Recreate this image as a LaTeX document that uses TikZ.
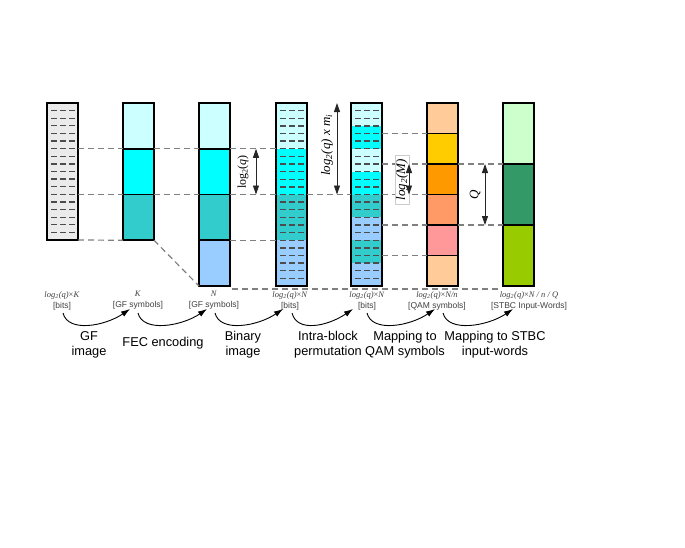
\documentclass[tikz,border=0pt]{standalone}
\usepackage{fontspec}
\setmainfont{Liberation Serif}
\setsansfont{Liberation Sans}
\usetikzlibrary{arrows.meta}
\definecolor{lcyan}{HTML}{CCFFFF}
\definecolor{cyn}{HTML}{00FFFF}
\definecolor{teal2}{HTML}{33CCCC}
\definecolor{lblue}{HTML}{99CCFF}
\definecolor{peach}{HTML}{FFCC99}
\definecolor{gold2}{HTML}{FFCC00}
\definecolor{orng}{HTML}{FF9900}
\definecolor{salmon2}{HTML}{FF9966}
\definecolor{pink2}{HTML}{FF9999}
\definecolor{lgreen}{HTML}{CCFFCC}
\definecolor{sgreen}{HTML}{339966}
\definecolor{ygreen}{HTML}{99CC00}
\definecolor{bgray}{HTML}{EBEBEB}
\newcommand{\lgq}{\textit{log}\textsubscript{\textit{2}}\textit{(q)}}
\begin{document}
\begin{tikzpicture}[x=1pt,y=-1pt,
  blk/.style={draw, line width=1.8pt, minimum width=31pt, inner sep=0pt, outer sep=0pt, anchor=north west},
  guide/.style={draw=black!50, line width=1.2pt, dash pattern=on 6pt off 4pt},
  bitd/.style={draw=black!70, line width=1.3pt, dash pattern=on 6pt off 3pt},
  dimarrow/.style={draw=black!85, line width=0.9pt, {Triangle[length=9pt,width=6pt]}-{Triangle[length=9pt,width=6pt]}},
  curv/.style={draw=black, line width=0.9pt, -{Latex[length=9pt,width=6pt]}},
  collab/.style={align=center, font=\fontsize{8.5}{11}\selectfont, text=black!75, inner sep=0pt},
  steplab/.style={align=center, font=\sffamily\fontsize{12.8}{15}\selectfont, inner sep=0pt}]
\useasboundingbox[fill=white] (0,0) rectangle (685,547);

% column 1
\node[blk, fill=bgray, minimum height=137pt] (c1) at (47,103) {};
\foreach \i in {1,...,17} \draw[bitd] (51,{103+\i*137/18}) -- (75,{103+\i*137/18});

% column 2
\foreach \c [count=\k] in {lcyan,cyn,teal2}
  \node[blk, fill=\c, minimum height=45.75pt] (c2b\k) at (123,{103+(\k-1)*45.75}) {};

% column 3
\foreach \c [count=\k] in {lcyan,cyn,teal2,lblue}
  \node[blk, fill=\c, minimum height=45.75pt] (c3b\k) at (199,{103+(\k-1)*45.75}) {};

% column 4
\foreach \c [count=\k] in {lcyan,cyn,teal2,lblue}
  \fill[\c] (276,{103+(\k-1)*45.75}) rectangle (307,{103+\k*45.75});
\foreach \i in {1,...,23} \draw[bitd] (280,{103+\i*183/24}) -- (304,{103+\i*183/24});
\node[blk, minimum height=183pt] (c4) at (276,103) {};

% column 5
\foreach \c [count=\k] in {lcyan,cyn,lcyan,cyn,teal2,lblue,teal2,lblue}
  \fill[\c] (351,{103+(\k-1)*22.875}) rectangle (382,{103+\k*22.875});
\foreach \i in {1,...,23} \draw[bitd] (355,{103+\i*183/24}) -- (379,{103+\i*183/24});
\node[blk, minimum height=183pt] (c5) at (351,103) {};

% column 6
\foreach \c [count=\k] in {peach,gold2,orng,salmon2,pink2,peach}
  \node[blk, fill=\c, minimum height=30.5pt] (c6b\k) at (427,{103+(\k-1)*30.5}) {};

% column 7
\foreach \c [count=\k] in {lgreen,sgreen,ygreen}
  \node[blk, fill=\c, minimum height=61pt] (c7b\k) at (503,{103+(\k-1)*61}) {};

% guide lines
\draw[guide] (c1.east |- c2b1.south) -- (c2b1.south west);
\draw[guide] (c2b1.south east) -- (c3b1.south west);
\draw[guide] (c3b1.south east) -- (c4.west |- c3b1.south);
\draw[guide] (c1.east |- c2b2.south) -- (c2b2.south west);
\draw[guide] (c2b2.south east) -- (c3b2.south west);
\draw[guide] (c3b2.south east) -- (c4.west |- c3b2.south);
\draw[guide] (c4.east |- c3b2.south) -- (c5.west |- c3b2.south);
\draw[guide] (c1.south east) -- (c2b3.south west);
\draw[guide] (c3b3.south east) -- (c4.west |- c3b3.south);
\draw[guide] (c2b3.south east) -- (c3b4.south west);
\coordinate (bl) at (232,289);
\coordinate (br) at (500,289);
\draw[guide] (bl) -- (br);
\foreach \k in {1,...,5}
  \draw[guide] (c5.east |- c6b\k.south) -- (c6b\k.south west);
\draw[guide] (c6b2.south east) -- (c7b1.south west);
\draw[guide] (c6b4.south east) -- (c7b2.south west);

% dimension arrows and labels
\draw[dimarrow] ([xshift=26pt]c3b2.north east) -- ([xshift=26pt]c3b2.south east);
\node[rotate=90, font=\fontsize{12}{14}\selectfont, inner sep=0pt] (lq) at (243,172) {log\textsubscript{2}(\textit{q})};

\draw[dimarrow] ([xshift=30pt]c4.north east) -- ([xshift=30pt]c4.east |- c3b2.south);
\node[rotate=90, font=\itshape\fontsize{13}{15}\selectfont, inner sep=0pt] (lqm) at (327,145) {log\textsubscript{2}(q) x m\textsubscript{i}};

\node[rotate=90, font=\itshape\fontsize{13}{15}\selectfont, fill=white, draw=black!20, line width=0.6pt, inner xsep=4pt, inner ysep=1pt] (lm) at (402,180) {log\textsubscript{2}(M)};
\draw[dimarrow] ([xshift=27pt]c5.east |- c6b2.south) -- ([xshift=27pt]c5.east |- c6b3.south);

\draw[dimarrow] ([xshift=27pt]c6b3.north east) -- ([xshift=27pt]c6b4.south east);
\node[rotate=90, font=\itshape\fontsize{13}{15}\selectfont, inner sep=0pt] (lQ) at (475,195) {Q};

% column labels
\node[collab] (l1) at (62,300.5) {\lgq{}×\textit{K}\\\sffamily [bits]};
\node[collab] (l2) at (138,300.5) {\textit{K}\\\sffamily [GF symbols]};
\node[collab] (l3) at (214,300.5) {\textit{N}\\\sffamily [GF symbols]};
\node[collab] (l4) at (290,300.5) {\lgq{}×\textit{N}\\\sffamily [bits]};
\node[collab] (l5) at (367,300.5) {\lgq{}×\textit{N}\\\sffamily [bits]};
\node[collab] (l6) at (437,300.5) {\lgq{}×\textit{N/n}\\\sffamily [QAM symbols]};
\node[collab] (l7) at (529,300.5) {\lgq{}×\textit{N / n / Q}\\\sffamily [STBC Input-Words]};

% curved arrows
\coordinate (s1) at (63,313);  \coordinate (e1) at (130,309);
\coordinate (s2) at (138,313); \coordinate (e2) at (207,309);
\coordinate (s3) at (215,313); \coordinate (e3) at (283,309);
\coordinate (s4) at (292,313); \coordinate (e4) at (353,309);
\coordinate (s5) at (367,313); \coordinate (e5) at (435,309);
\coordinate (s6) at (443,313); \coordinate (e6) at (513,309);
\foreach \k in {1,...,6}
  \draw[curv] (s\k) .. controls +(5,20) and +(-25,17) .. (e\k);

% step labels
\node[steplab] (t1) at (89,344.5) {GF\\image};
\node[steplab] (t2) at (163,343) {FEC encoding};
\node[steplab] (t3) at (243,344.5) {Binary\\image};
\node[steplab] (t4) at (328,344.5) {Intra-block\\permutation};
\node[steplab] (t5) at (405,344.5) {Mapping to\\QAM symbols};
\node[steplab] (t6) at (495,344.5) {Mapping to STBC\\input-words};
\end{tikzpicture}
\end{document}
